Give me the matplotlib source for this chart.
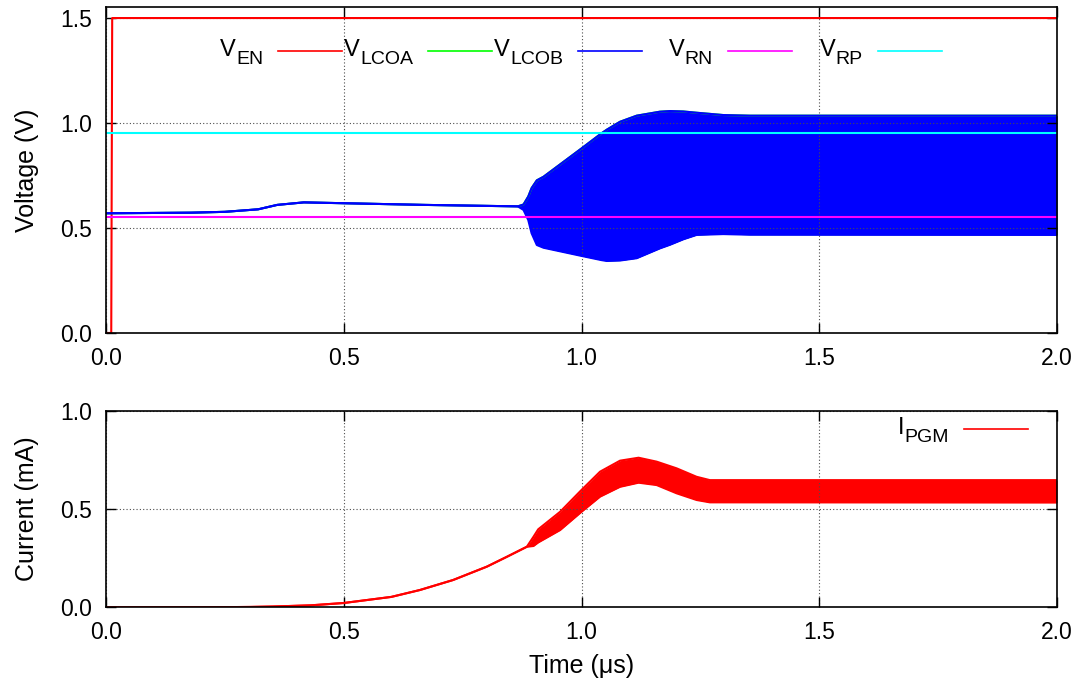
import numpy as np
import matplotlib.pyplot as plt
from matplotlib.lines import Line2D

plt.rcParams['font.family'] = ['Liberation Sans', 'DejaVu Sans']

# enable signal
t_en = [0.0, 0.011, 0.013, 2.0]
v_en = [0.0, 0.0, 1.5, 1.5]

# reference levels
t_ref = [0.0, 2.0]
v_rn = [0.552, 0.552]
v_rp = [0.952, 0.952]

# LC tank nodes: envelope (upper/lower)
t_lc = [0.0, 0.18, 0.25, 0.32, 0.36, 0.416, 0.5, 0.67, 0.866, 0.878, 0.888, 0.895,
        0.906, 0.92, 1.0, 1.042, 1.053, 1.081, 1.116, 1.165, 1.186, 1.214, 1.242,
        1.298, 1.354, 2.0]
lc_up = [0.570, 0.573, 0.577, 0.589, 0.610, 0.622, 0.618, 0.610, 0.603, 0.612, 0.650, 0.690,
         0.727, 0.744, 0.879, 0.951, 0.968, 1.006, 1.035, 1.054, 1.057, 1.055, 1.049,
         1.038, 1.035, 1.035]
lc_lo = [0.570, 0.573, 0.577, 0.589, 0.610, 0.622, 0.618, 0.610, 0.603, 0.586, 0.538, 0.475,
         0.419, 0.406, 0.367, 0.347, 0.343, 0.345, 0.356, 0.403, 0.420, 0.446, 0.467,
         0.471, 0.468, 0.467]

# programming current envelope
t_i = [0.0, 0.2, 0.305, 0.35, 0.43, 0.5, 0.6, 0.66, 0.73, 0.801, 0.843, 0.885, 0.899,
       0.909, 0.955, 1.0, 1.039, 1.081, 1.12, 1.158, 1.2, 1.242, 1.27, 2.0]
i_up = [0.0, 0.0, 0.002, 0.004, 0.010, 0.022, 0.053, 0.088, 0.139, 0.207, 0.257, 0.308, 0.359,
        0.397, 0.486, 0.597, 0.690, 0.746, 0.761, 0.741, 0.707, 0.664, 0.647, 0.647]
i_lo = [0.0, 0.0, 0.002, 0.004, 0.010, 0.022, 0.053, 0.088, 0.139, 0.207, 0.257, 0.308, 0.312,
        0.330, 0.393, 0.486, 0.563, 0.613, 0.634, 0.622, 0.580, 0.546, 0.534, 0.533]

x_ticks = [0.0, 0.5, 1.0, 1.5, 2.0]

fig = plt.figure(figsize=(10.84, 6.84), dpi=100)
ax1 = fig.add_axes([0.0978, 0.5132, 0.8773, 0.477])
ax2 = fig.add_axes([0.0978, 0.1121, 0.8773, 0.2874])

ax1.plot(t_en, v_en, color='#ff0000', lw=1.5)
ax1.fill_between(t_lc, lc_lo, lc_up, color='#00ff00', lw=0)
ax1.plot(t_lc, lc_up, color='#00ff00', lw=1.5)
ax1.fill_between(t_lc, lc_lo, lc_up, color='#0000ff', lw=0)
ax1.plot(t_lc, lc_up, color='#0000ff', lw=1.5)
ax1.plot(t_lc, lc_lo, color='#0000ff', lw=1.5)
ax1.plot(t_ref, v_rn, color='#ff00ff', lw=1.5)
ax1.plot(t_ref, v_rp, color='#00ffff', lw=1.5)
ax1.set_ylim(0, 1.554)
ax1.set_yticks([0.0, 0.5, 1.0, 1.5])
ax1.set_ylabel('Voltage (V)', fontsize=18, labelpad=15)

ax2.fill_between(t_i, i_lo, i_up, color='#ff0000', lw=0)
ax2.plot(t_i, i_up, color='#ff0000', lw=1.5)
ax2.plot(t_i, i_lo, color='#ff0000', lw=1.5)
ax2.set_ylim(0, 1.0)
ax2.set_yticks([0.0, 0.5, 1.0])
ax2.set_ylabel('Current (mA)', fontsize=18, labelpad=15)
ax2.set_xlabel('Time (μs)', fontsize=18, labelpad=7)

for ax in (ax1, ax2):
    ax.set_xlim(0, 2.0)
    ax.set_xticks(x_ticks)
    ax.yaxis.set_major_formatter(plt.FormatStrFormatter('%.1f'))
    ax.xaxis.set_major_formatter(plt.FormatStrFormatter('%.1f'))
    ax.tick_params(direction='in', length=7, width=1, top=True, right=True,
                   labelsize=16.5, pad=10)
    ax.grid(True, color='0.3', linestyle=(0, (1, 2)), lw=0.8)
    for s in ax.spines.values():
        s.set_linewidth(1.2)

renderer = fig.canvas.get_renderer()


def key(ax, xr, y_main, y_sub, y_line, main, sub, color):
    # gnuplot style key: right aligned text with subscript, then sample line
    st = ax.text(xr, y_sub, sub, transform=ax.transAxes, ha='right',
                 va='baseline', fontsize=14)
    bb = st.get_window_extent(renderer)
    xs = ax.transAxes.inverted().transform((bb.x0, bb.y0))[0]
    ax.text(xs, y_main, main, transform=ax.transAxes, ha='right',
            va='baseline', fontsize=17)
    ax.add_line(Line2D([xr + 0.016, xr + 0.083], [y_line, y_line], color=color,
                       lw=1.2, transform=ax.transAxes))


names = ['EN', 'LCOA', 'LCOB', 'RN', 'RP']
cols = ['#ff0000', '#00ff00', '#0000ff', '#ff00ff', '#00ffff']
for k, (nm, c) in enumerate(zip(names, cols)):
    key(ax1, 0.1651 + k * 0.1577, 0.849, 0.8245, 0.865, 'V', nm, c)

key(ax2, 0.886, 0.880, 0.842, 0.907, 'I', 'PGM', '#ff0000')

fig.savefig('out.png', dpi=100)
